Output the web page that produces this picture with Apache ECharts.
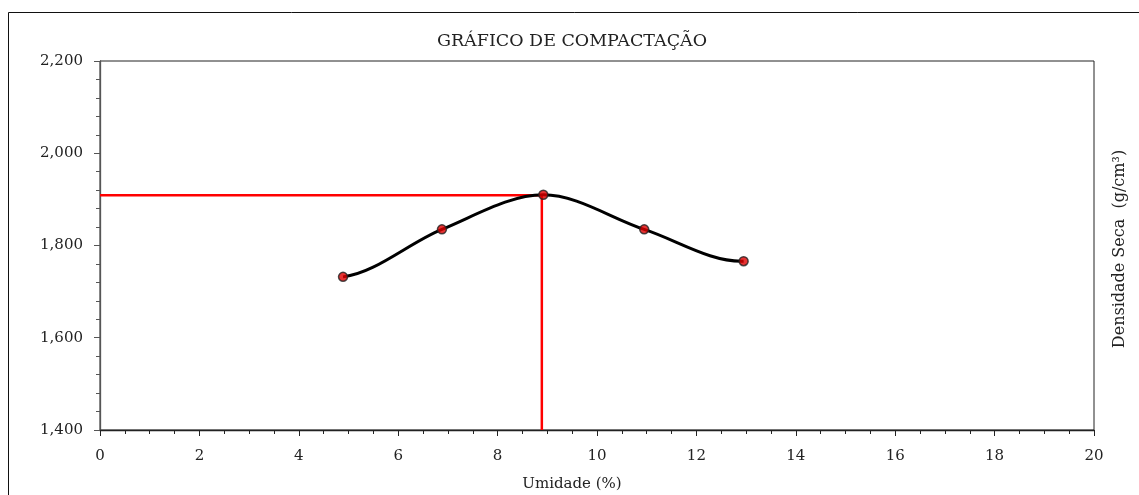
<!DOCTYPE html>
<html>
<head>
<meta charset="utf-8">
<script src="https://cdn.jsdelivr.net/npm/echarts@6/dist/echarts.min.js"></script>
<style>html,body{margin:0;padding:0;background:#fff}#c{width:1139px;height:495px}</style>
</head>
<body>
<div id="c"></div>
<script>
const title = 'GRÁFICO DE COMPACTAÇÃO';
const xName = 'Umidade (%)';
const yName = 'Densidade Seca  (g/cm³)';
const humidity = [4.89, 6.88, 8.92, 10.95, 12.95];
const density = [1.732, 1.835, 1.910, 1.835, 1.766];
const optHumidity = [8.89];
const maxDensity = [1.909];
const xTicks = [0, 20, 2];
const yTicks = [1.4, 2.2, 0.2];

const FONT = 'DejaVu Serif';
const TXT = '#222';
const chart = echarts.init(document.getElementById('c'));
const pts = humidity.map((x, i) => [x, density[i]]);
const refLine = [[xTicks[0], maxDensity[0]], [optHumidity[0], maxDensity[0]], [optHumidity[0], yTicks[0]]];

function curveItem(params, api) {
  if (params.dataIndex !== 0) return null;
  const P = pts.map(p => api.coord(p));
  const n = P.length;
  const m = P.map((p, i) => {
    if (i === 0) return [P[1][0] - P[0][0], (P[1][1] - P[0][1]) * 0.25];
    if (i === n - 1) return [P[n - 1][0] - P[n - 2][0], (P[n - 1][1] - P[n - 2][1]) * -0.1];
    return [(P[i + 1][0] - P[i - 1][0]) / 2, (P[i + 1][1] - P[i - 1][1]) / 2];
  });
  let d = 'M' + P[0][0] + ' ' + P[0][1];
  for (let i = 0; i < n - 1; i++) {
    const c1 = [P[i][0] + m[i][0] / 3, P[i][1] + m[i][1] / 3];
    const c2 = [P[i + 1][0] - m[i + 1][0] / 3, P[i + 1][1] - m[i + 1][1] / 3];
    d += ' C' + c1[0] + ' ' + c1[1] + ' ' + c2[0] + ' ' + c2[1] + ' ' + P[i + 1][0] + ' ' + P[i + 1][1];
  }
  return {type: 'path', shape: {pathData: d}, style: {stroke: '#000', lineWidth: 3, fill: 'none'}};
}

chart.setOption({
  animation: false,
  backgroundColor: '#fff',
  grid: {left: 100, right: 45, top: 61, bottom: 65, show: true, borderColor: '#222', borderWidth: 1},
  xAxis: {
    type: 'value', min: xTicks[0], max: xTicks[1], interval: xTicks[2],
    axisLine: {lineStyle: {color: '#222', width: 1.3}},
    axisTick: {show: true, length: 6, lineStyle: {color: '#222'}},
    minorTick: {show: true, splitNumber: 4, length: 4, lineStyle: {color: '#222'}},
    splitLine: {show: false},
    axisLabel: {fontFamily: FONT, fontSize: 15, color: TXT, margin: 19}
  },
  yAxis: {
    type: 'value', min: yTicks[0], max: yTicks[1], interval: yTicks[2],
    axisLine: {show: true, lineStyle: {color: '#555', width: 1.3}},
    axisTick: {show: true, length: 6, lineStyle: {color: '#555'}},
    minorTick: {show: true, splitNumber: 5, length: 4, lineStyle: {color: '#555'}},
    splitLine: {show: false},
    axisLabel: {fontFamily: FONT, fontSize: 15, color: TXT, margin: 17,
      formatter: v => v.toFixed(3).replace('.', ',')}
  },
  graphic: [
    {type: 'rect', shape: {x: 8.5, y: 12.5, width: 1300, height: 700}, style: {fill: 'none', stroke: '#111', lineWidth: 1}, z: 100, silent: true},
    {type: 'text', x: 572, y: 41,
     style: {text: title, fontFamily: FONT, fontSize: 17.5, fill: TXT, align: 'center', verticalAlign: 'middle'}},
    {type: 'text', x: 572, y: 484,
     style: {text: xName, fontFamily: FONT, fontSize: 15, fill: TXT, align: 'center', verticalAlign: 'middle'}},
    {type: 'text', x: 1120, y: 249, rotation: Math.PI / 2,
     style: {text: yName, fontFamily: FONT, fontSize: 16, fill: TXT, align: 'center', verticalAlign: 'middle'}}
  ],
  series: [
    {type: 'line', data: refLine, symbol: 'none', lineStyle: {color: '#ff0000', width: 2.5}, z: 1},
    {type: 'custom', data: pts, renderItem: curveItem, z: 2, silent: true},
    {type: 'scatter', data: pts, symbol: 'circle', symbolSize: 9,
     itemStyle: {color: '#e00000', borderColor: '#222', borderWidth: 1.5}, z: 3}
  ]
});
</script>
</body>
</html>
